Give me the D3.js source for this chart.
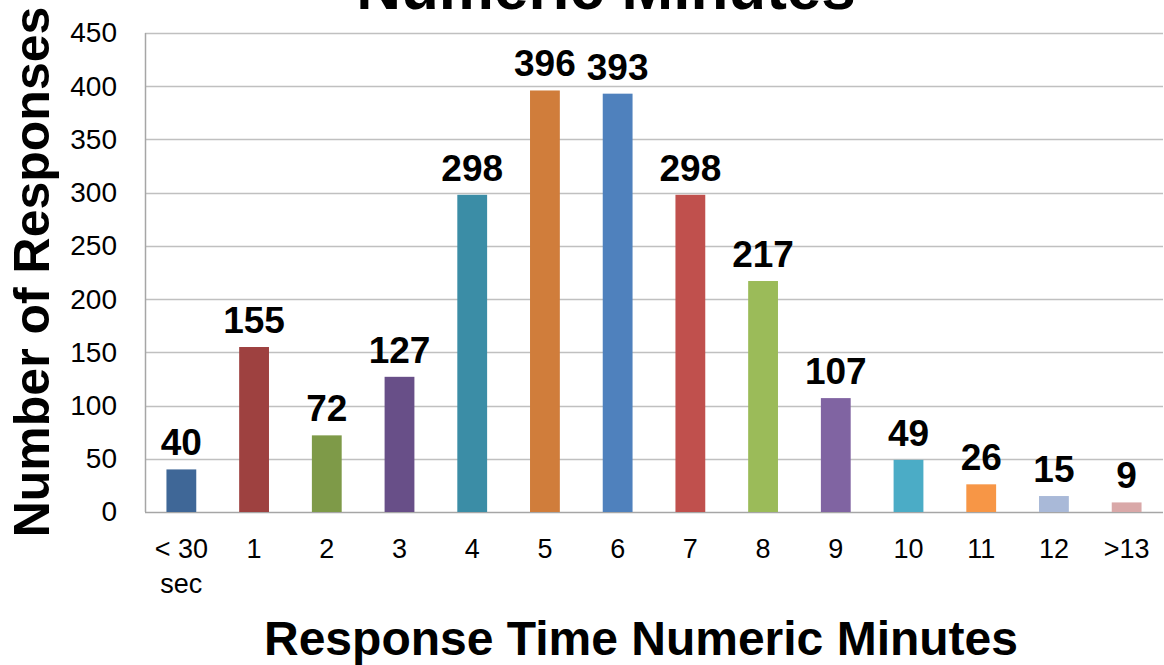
<!DOCTYPE html>
<html>
<head>
<meta charset="utf-8">
<script src="https://cdn.jsdelivr.net/npm/d3@7"></script>
<style>
  body { margin: 0; background: #fff; }
  svg { display: block; font-family: "Liberation Sans", Arial, sans-serif; }
</style>
</head>
<body>
<svg id="chart" width="1164" height="665"></svg>
<script>
const categories = ["< 30\nsec", "1", "2", "3", "4", "5", "6", "7", "8", "9", "10", "11", "12", ">13"];
const values = [40, 155, 72, 127, 298, 396, 393, 298, 217, 107, 49, 26, 15, 9];
const colors = ["#3F6797", "#9E4140", "#7E9A48", "#684F88", "#3B8DA6", "#D07D3B", "#4F81BD",
                "#C0504D", "#9BBB59", "#8064A2", "#4BACC6", "#F79646", "#A9B9D8", "#D9A8A8"];
const yTicks = [0, 50, 100, 150, 200, 250, 300, 350, 400, 450];
const chartTitle = "Numeric Minutes";
const xTitle = "Response Time Numeric Minutes";
const yTitle = "Number of Responses";

const svg = d3.select("#chart");
const W = 1164, H = 665;
const m = { left: 145, right: 1, top: 33, bottom: 153 };
const x0 = m.left, x1 = W - m.right, y0 = H - m.bottom, y1 = m.top;

const x = d3.scaleBand().domain(categories).range([x0, x1]).paddingInner(0.59).paddingOuter(0.295);
const y = d3.scaleLinear().domain([0, 450]).range([y0, y1]);

// gridlines
svg.append("g").selectAll("line").data(yTicks).join("line")
  .attr("x1", x0).attr("x2", x1)
  .attr("y1", d => Math.round(y(d)) + 0.5).attr("y2", d => Math.round(y(d)) + 0.5)
  .attr("stroke", d => d === 0 ? "#A6A6A6" : "#C0C0C0").attr("stroke-width", 1.5);

// left axis line
svg.append("line").attr("x1", x0 + 0.5).attr("x2", x0 + 0.5)
  .attr("y1", y1).attr("y2", y0).attr("stroke", "#A6A6A6").attr("stroke-width", 1.5);

// y axis labels
const yAxis = d3.axisLeft(y).tickValues(yTicks).tickSize(0).tickPadding(28);
const gy = svg.append("g").attr("transform", `translate(${x0},0)`).call(yAxis);
gy.select(".domain").remove();
gy.selectAll("text").attr("font-size", 28).attr("fill", "#000")
  .attr("font-family", "Liberation Sans, Arial, sans-serif");

// bars
svg.append("g").selectAll("rect").data(values).join("rect")
  .attr("x", (d, i) => x(categories[i]))
  .attr("width", x.bandwidth())
  .attr("y", d => y(d))
  .attr("height", d => y(0) - y(d))
  .attr("fill", (d, i) => colors[i]);

// value labels
svg.append("g").selectAll("text").data(values).join("text")
  .attr("x", (d, i) => x(categories[i]) + x.bandwidth() / 2)
  .attr("y", d => y(d) - 14)
  .attr("text-anchor", "middle")
  .attr("font-size", 37).attr("font-weight", "bold")
  .text(d => d);

// x axis labels
const xAxis = d3.axisBottom(x).tickSize(0).tickPadding(0);
const gx = svg.append("g").attr("transform", `translate(0,${y0})`).call(xAxis);
gx.select(".domain").remove();
gx.selectAll(".tick text").each(function(d) {
  const t = d3.select(this);
  const lines = d.split("\n");
  t.text(null).attr("y", 0).attr("dy", null)
    .attr("font-size", 27).attr("fill", "#000")
    .attr("font-family", "Liberation Sans, Arial, sans-serif");
  lines.forEach((ln, k) => {
    t.append("tspan").attr("x", 0).attr("y", 46 + k * 35).text(ln);
  });
});

// titles
svg.append("text").attr("x", 606).attr("y", 9).attr("text-anchor", "middle")
  .attr("font-size", 62).attr("font-weight", "bold").text(chartTitle);

svg.append("text").attr("x", 641).attr("y", 655).attr("text-anchor", "middle")
  .attr("font-size", 48).attr("font-weight", "bold").text(xTitle);

svg.append("text").attr("transform", "translate(49,272) rotate(-90)")
  .attr("text-anchor", "middle")
  .attr("font-size", 50).attr("font-weight", "bold").text(yTitle);
</script>
</body>
</html>
